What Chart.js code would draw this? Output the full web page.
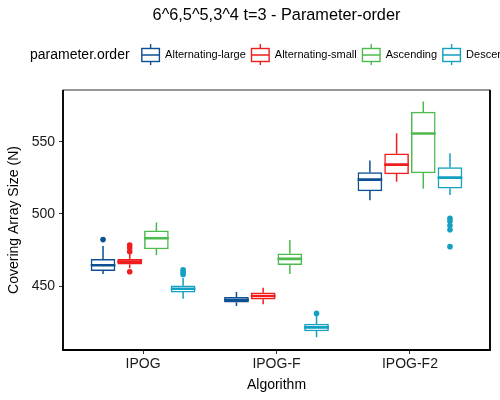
<!DOCTYPE html>
<html>
<head>
<meta charset="utf-8">
<script src="https://cdn.jsdelivr.net/npm/chart.js@4/dist/chart.umd.min.js"></script>
<style>
  html, body { margin: 0; padding: 0; background: #fff; overflow: hidden; }
  #wrap { width: 500px; height: 400px; }
</style>
</head>
<body>
<div id="wrap"><canvas id="c" width="500" height="400"></canvas></div>
<script>
// ---- Data ----
const categories = ['IPOG', 'IPOG-F', 'IPOG-F2'];
const seriesNames = ['Alternating-large', 'Alternating-small', 'Ascending', 'Descending'];
const seriesColors = ['#0d4f93', '#f01d1d', '#4dba4d', '#13a0c1'];

// five-number summaries per series, one value per category
const altLargeMin = [458.3, 436.1, 509.5];
const altLargeQ1  = [460.6, 438.7, 516.0];
const altLargeMed = [464.4, 440.3, 523.8];
const altLargeQ3  = [468.5, 442.2, 528.7];
const altLargeMax = [477.8, 445.8, 537.0];
const altLargeOut = [[482.2], [], []];

const altSmallMin = [462.3, 437.3, 522.4];
const altSmallQ1  = [465.1, 440.8, 527.8];
const altSmallMed = [466.9, 443.1, 534.2];
const altSmallQ3  = [468.5, 445.3, 541.7];
const altSmallMax = [472.5, 448.8, 556.0];
const altSmallOut = [[478.5, 476.4, 473.8, 459.9], [], []];

const ascMin = [471.3, 458.3, 517.4];
const ascQ1  = [475.7, 464.8, 528.5];
const ascMed = [483.1, 468.8, 555.8];
const ascQ3  = [488.2, 472.4, 570.6];
const ascMax = [494.0, 482.0, 578.0];
const ascOut = [[], [], []];

const descMin = [441.2, 414.4, 513.2];
const descQ1  = [445.8, 418.8, 517.8];
const descMed = [448.1, 421.3, 525.2];
const descQ3  = [450.2, 423.6, 532.2];
const descMax = [455.5, 429.2, 542.2];
const descOut = [[461.3, 459.6, 458.0], [431.0], [497.0, 495.0, 492.0, 489.0, 477.3]];

const yTicks = [450, 500, 550];

// ---- Build datasets ----
const summaries = [
  {min: altLargeMin, q1: altLargeQ1, med: altLargeMed, q3: altLargeQ3, max: altLargeMax, out: altLargeOut},
  {min: altSmallMin, q1: altSmallQ1, med: altSmallMed, q3: altSmallQ3, max: altSmallMax, out: altSmallOut},
  {min: ascMin, q1: ascQ1, med: ascMed, q3: ascQ3, max: ascMax, out: ascOut},
  {min: descMin, q1: descQ1, med: descMed, q3: descQ3, max: descMax, out: descOut}
];
const dodge = [-0.3, -0.1, 0.1, 0.3];
const halfBox = 0.0925;

const datasets = [];
summaries.forEach((s, si) => {
  const col = seriesColors[si];
  const xs = categories.map((c, ci) => ci + 1 + dodge[si]);
  // whiskers
  const wh = [];
  xs.forEach((x, ci) => {
    wh.push({x: x, y: s.max[ci]}, {x: x, y: s.q3[ci]}, {x: x, y: null},
            {x: x, y: s.q1[ci]}, {x: x, y: s.min[ci]}, {x: x, y: null});
  });
  datasets.push({type: 'line', data: wh, borderColor: col, borderWidth: 1.5,
    pointRadius: 0, spanGaps: false, order: 5, borderCapStyle: 'butt'});
  // boxes
  datasets.push({type: 'bar', data: xs.map((x, ci) => ({x: x, y: [s.q1[ci], s.q3[ci]]})),
    backgroundColor: '#ffffff', borderColor: col, borderWidth: 1.5, borderSkipped: false,
    barThickness: 24, grouped: false, order: 4});
  // medians
  const md = [];
  xs.forEach((x, ci) => {
    md.push({x: x - halfBox, y: s.med[ci]}, {x: x + halfBox, y: s.med[ci]}, {x: x, y: null});
  });
  datasets.push({type: 'line', data: md, borderColor: col, borderWidth: 2.6,
    pointRadius: 0, spanGaps: false, order: 3, borderCapStyle: 'butt'});
  // outliers
  const od = [];
  xs.forEach((x, ci) => s.out[ci].forEach(v => od.push({x: x, y: v})));
  datasets.push({type: 'scatter', data: od, backgroundColor: col, borderColor: col,
    pointRadius: 2.8, borderWidth: 0, order: 2});
});

Chart.defaults.font.family = '"Liberation Sans", Arial, sans-serif';
Chart.defaults.color = '#1a1a1a';

const decor = {
  id: 'decor',
  afterDraw(chart) {
    const ctx = chart.ctx;
    const a = chart.chartArea;
    ctx.save();
    // panel border
    ctx.strokeStyle = '#333';
    ctx.lineWidth = 1;
    ctx.strokeRect(a.left, a.top, a.right - a.left, a.bottom - a.top);
    ctx.strokeStyle = '#000';
    ctx.lineWidth = 1.8;
    ctx.beginPath();
    ctx.moveTo(a.left, a.top); ctx.lineTo(a.left, a.bottom);
    ctx.lineTo(a.right, a.bottom); ctx.lineTo(a.right, a.top);
    ctx.stroke();
    // title
    ctx.fillStyle = '#000';
    ctx.font = '16.3px "Liberation Sans", Arial, sans-serif';
    ctx.textAlign = 'center';
    ctx.textBaseline = 'middle';
    ctx.fillText('6^6,5^5,3^4 t=3 - Parameter-order', (a.left + a.right) / 2, 15.5);
    // legend
    const ly = 55;
    ctx.textAlign = 'left';
    ctx.font = '14px "Liberation Sans", Arial, sans-serif';
    let x = 30;
    ctx.fillText('parameter.order', x, ly);
    x += ctx.measureText('parameter.order').width + 11.5;
    ctx.font = '11px "Liberation Sans", Arial, sans-serif';
    seriesNames.forEach((name, i) => {
      const col = seriesColors[i];
      const w = 19;
      ctx.strokeStyle = col;
      ctx.lineWidth = 1.4;
      ctx.strokeRect(x + 0.7, ly - 6.5, w - 1.4, 13);
      ctx.beginPath();
      ctx.moveTo(x + w / 2, ly - 11); ctx.lineTo(x + w / 2, ly - 6.5);
      ctx.moveTo(x + w / 2, ly + 6.5); ctx.lineTo(x + w / 2, ly + 10);
      ctx.moveTo(x + 0.7, ly); ctx.lineTo(x + w - 0.7, ly);
      ctx.stroke();
      x += w + 5;
      ctx.fillStyle = '#000';
      ctx.fillText(name, x, ly);
      x += ctx.measureText(name).width + 5;
    });
    ctx.restore();
  }
};

new Chart(document.getElementById('c'), {
  type: 'bar',
  data: {datasets: datasets},
  plugins: [decor],
  options: {
    responsive: false,
    animation: false,
    devicePixelRatio: 1,
    layout: {padding: {top: 90, right: 10, left: 0, bottom: 0}},
    plugins: {legend: {display: false}, title: {display: false}, tooltip: {enabled: false}},
    scales: {
      x: {
        type: 'linear', min: 0.4, max: 3.6, offset: false,
        grid: {drawOnChartArea: false, offset: false, tickLength: 4, color: '#333', tickColor: '#333'},
        border: {display: false},
        afterBuildTicks: s => { s.ticks = categories.map((c, i) => ({value: i + 1})); },
        afterFit: s => { s.height = 50; },
        ticks: {autoSkip: false, maxRotation: 0, padding: 2, color: '#1a1a1a',
          font: {size: 14}, callback: v => categories[Math.round(v) - 1] || ''},
        title: {display: true, text: 'Algorithm', color: '#000', font: {size: 14}, padding: {top: 0, bottom: 6}}
      },
      y: {
        type: 'linear', min: 405.6, max: 586,
        grid: {drawOnChartArea: false, tickLength: 4, color: '#333', tickColor: '#333'},
        border: {display: false},
        afterBuildTicks: s => { s.ticks = yTicks.map(v => ({value: v})); },
        afterFit: s => { s.width = 63; },
        ticks: {padding: 4, color: '#1a1a1a', font: {size: 14}},
        title: {display: true, text: 'Covering Array Size (N)', color: '#000', font: {size: 14}, padding: {top: 6, bottom: 0}}
      }
    }
  }
});
</script>
</body>
</html>
